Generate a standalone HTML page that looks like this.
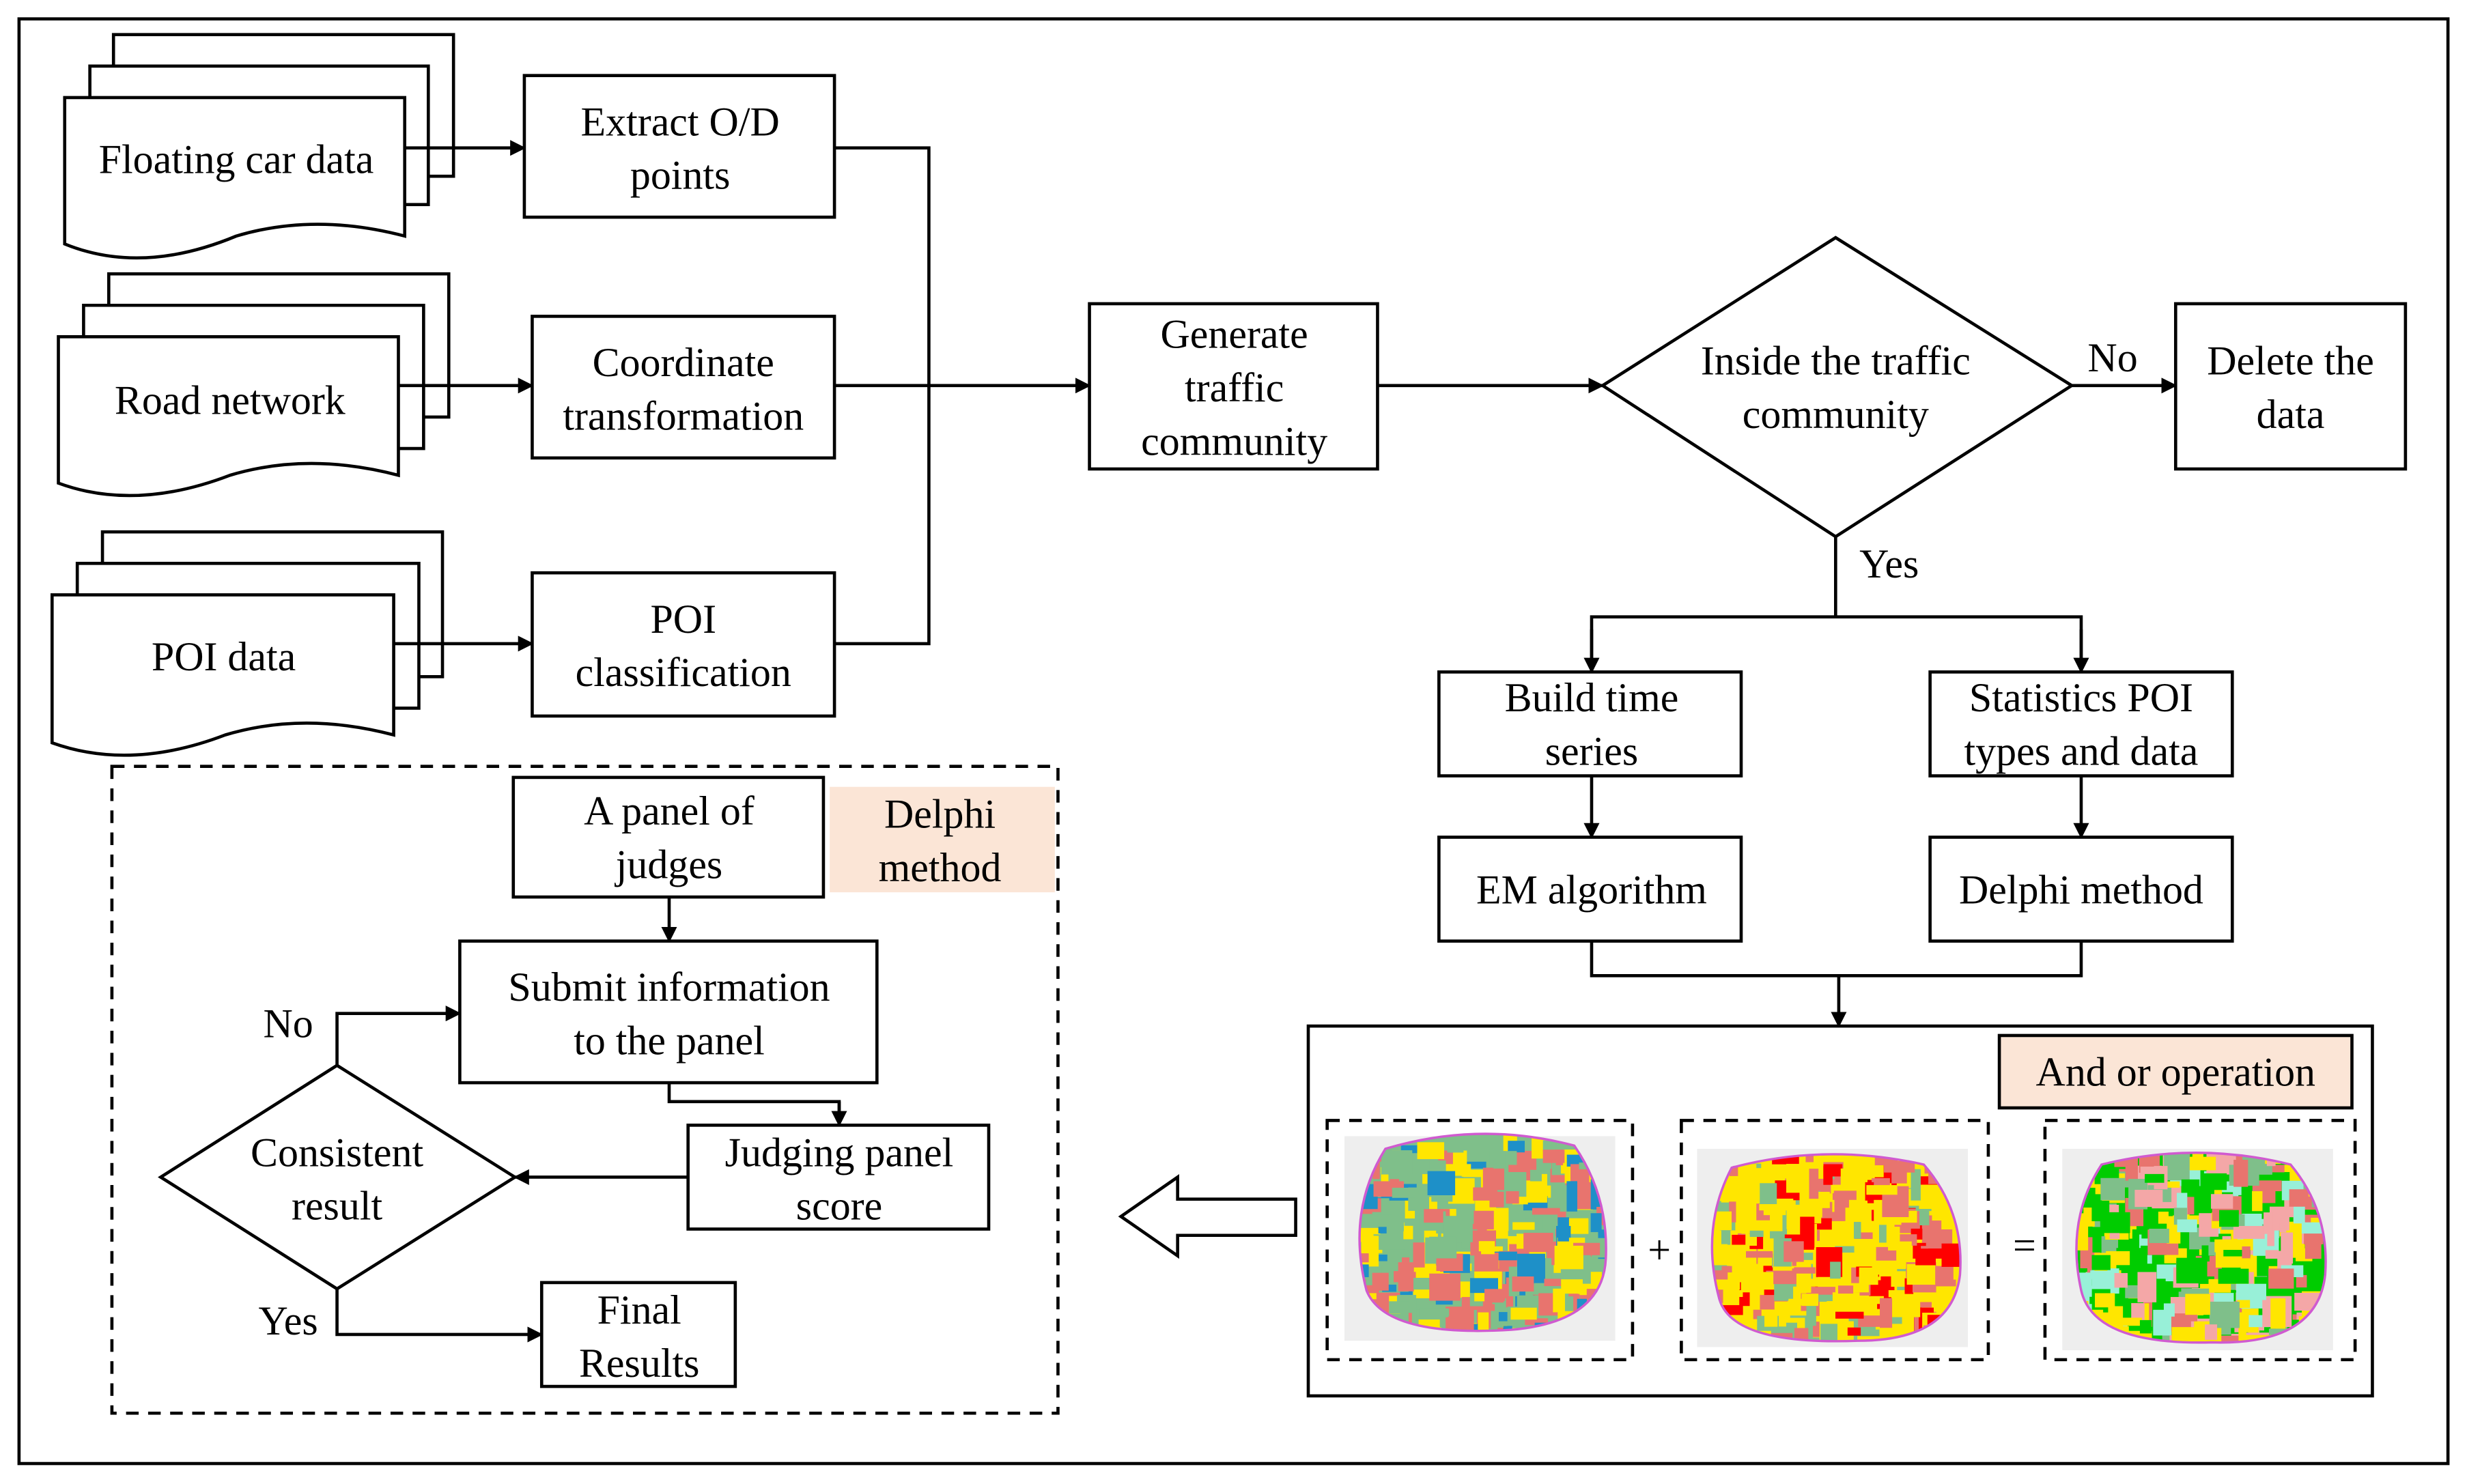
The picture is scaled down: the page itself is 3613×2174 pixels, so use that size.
<!DOCTYPE html>
<html><head><meta charset="utf-8"><style>
html,body{margin:0;padding:0;background:#fff;}
svg{display:block;}
text{font-family:"Liberation Serif",serif;font-size:26px;fill:#000;text-anchor:middle;}
</style></head><body>
<svg id="s" width="3613" height="2174" viewBox="0 0 1567 943" xmlns="http://www.w3.org/2000/svg">
<defs>
<marker id="a" markerWidth="10" markerHeight="10" refX="9" refY="5" orient="auto" markerUnits="userSpaceOnUse"><path d="M0,0 L10,5 L0,10 z" fill="#000"/></marker>
<clipPath id="c1"><path id="p1" d="M880,730 Q940,712 1000,728 Q1022,760 1020,800 Q1018,840 960,845 Q880,850 868,820 Q855,770 880,730z"/></clipPath>
<clipPath id="c2"><path id="p2" d="M1100,742 Q1160,726 1222,740 Q1248,770 1245,810 Q1240,852 1180,852 Q1100,855 1092,825 Q1080,780 1100,742z"/></clipPath>
<clipPath id="c3"><path id="p3" d="M1335,740 Q1395,725 1455,740 Q1480,770 1477,810 Q1472,855 1405,853 Q1330,855 1322,820 Q1312,775 1335,740z"/></clipPath>
</defs>
<g fill="none" stroke="#000" stroke-width="2">
<rect x="12" y="12" width="1543" height="918"/>
<g fill="#fff">
<path d="M72,22 H288 V112 H72z"/>
<path d="M57,42 H272 V130 H57z"/>
<path d="M41,62 H257 V150 Q200,135 150,150 Q90,175 41,155z"/>
<path d="M69,174 H285 V265 H69z"/>
<path d="M53,194 H269 V285 H53z"/>
<path d="M37,214 H253 V302 Q196,287 146,302 Q86,325 37,307z"/>
<path d="M65,338 H281 V430 H65z"/>
<path d="M49,358 H266 V450 H49z"/>
<path d="M33,378 H250 V467 Q193,452 143,467 Q83,490 33,472z"/>
</g>
<line x1="257" y1="94" x2="333" y2="94" marker-end="url(#a)"/>
<line x1="253" y1="245" x2="338" y2="245" marker-end="url(#a)"/>
<line x1="250" y1="409" x2="338" y2="409" marker-end="url(#a)"/>
<rect x="333" y="48" width="197" height="90"/>
<rect x="338" y="201" width="192" height="90"/>
<rect x="338" y="364" width="192" height="91"/>
<polyline points="530,94 590,94 590,409 530,409"/>
<line x1="530" y1="245" x2="692" y2="245" marker-end="url(#a)"/>
<rect x="692" y="193" width="183" height="105"/>
<line x1="875" y1="245" x2="1018" y2="245" marker-end="url(#a)"/>
<path d="M1166,151 L1316,245 L1166,341 L1018,245z"/>
<line x1="1316" y1="245" x2="1382" y2="245" marker-end="url(#a)"/>
<rect x="1382" y="193" width="146" height="105"/>
<polyline points="1166,341 1166,392"/>
<polyline points="1011,427 1011,392 1322,392 1322,427"/>
<line x1="1011" y1="400" x2="1011" y2="427" marker-end="url(#a)"/>
<line x1="1322" y1="400" x2="1322" y2="427" marker-end="url(#a)"/>
<rect x="914" y="427" width="192" height="66"/>
<rect x="1226" y="427" width="192" height="66"/>
<line x1="1011" y1="493" x2="1011" y2="532" marker-end="url(#a)"/>
<line x1="1322" y1="493" x2="1322" y2="532" marker-end="url(#a)"/>
<rect x="914" y="532" width="192" height="66"/>
<rect x="1226" y="532" width="192" height="66"/>
<polyline points="1011,598 1011,620 1322,620 1322,598"/>
<line x1="1168" y1="620" x2="1168" y2="652" marker-end="url(#a)"/>
<rect x="831" y="652" width="676" height="235"/>
<rect x="1270" y="658" width="224" height="46" fill="#fbe5d6"/>
<g stroke-dasharray="8,6">
<rect x="843" y="712" width="194" height="152"/>
<rect x="1068" y="712" width="195" height="152"/>
<rect x="1299" y="712" width="197" height="152"/>
<rect x="71" y="487" width="601" height="411"/>
</g>
<path d="M823,762 H748 V748 L712,773 L748,798 V785 H823z"/>
<rect x="326" y="494" width="197" height="76"/>
<rect x="527" y="500" width="143" height="67" fill="#fbe5d6" stroke="none"/>
<line x1="425" y1="570" x2="425" y2="598" marker-end="url(#a)"/>
<rect x="292" y="598" width="265" height="90"/>
<polyline points="425,688 425,700 533,700 533,715" />
<line x1="533" y1="700" x2="533" y2="715" marker-end="url(#a)"/>
<rect x="437" y="715" width="191" height="66"/>
<line x1="437" y1="748" x2="327" y2="748" marker-end="url(#a)"/>
<path d="M214,677 L327,748 L214,819 L102,748z"/>
<polyline points="214,677 214,644 292,644" marker-end="url(#a)"/>
<polyline points="214,819 214,848 344,848" marker-end="url(#a)"/>
<rect x="344" y="815" width="123" height="66"/>
</g>
<g id="maps"></g>
<text x="150" y="110">Floating car data</text>
<text x="146" y="263">Road network</text>
<text x="142" y="426">POI data</text>
<text x="432" y="86">Extract O/D</text><text x="432" y="120">points</text>
<text x="434" y="239">Coordinate</text><text x="434" y="273">transformation</text>
<text x="434" y="402">POI</text><text x="434" y="436">classification</text>
<text x="784" y="221">Generate</text><text x="784" y="255">traffic</text><text x="784" y="289">community</text>
<text x="1166" y="238">Inside the traffic</text><text x="1166" y="272">community</text>
<text x="1342" y="236">No</text>
<text x="1455" y="238">Delete the</text><text x="1455" y="272">data</text>
<text x="1200" y="367">Yes</text>
<text x="1011" y="452">Build time</text><text x="1011" y="486">series</text>
<text x="1322" y="452">Statistics POI</text><text x="1322" y="486">types and data</text>
<text x="1011" y="574">EM algorithm</text>
<text x="1322" y="574">Delphi method</text>
<text x="1382" y="690">And or operation</text>
<text x="1054" y="803">+</text><text x="1286" y="800">=</text>
<text x="425" y="524">A panel of</text><text x="425" y="558">judges</text>
<text x="597" y="526">Delphi</text><text x="597" y="560">method</text>
<text x="425" y="636">Submit information</text><text x="425" y="670">to the panel</text>
<text x="533" y="741">Judging panel</text><text x="533" y="775">score</text>
<text x="214" y="741">Consistent</text><text x="214" y="775">result</text>
<text x="183" y="659">No</text>
<text x="183" y="848">Yes</text>
<text x="406" y="841">Final</text><text x="406" y="875">Results</text>
</svg>
<script>
(function(){
var ns="http://www.w3.org/2000/svg",g=document.getElementById("maps");
var seed=7;function r(){seed=(seed*16807)%2147483647;return seed/2147483647;}
var maps=[[862,720,160,130,"c1","p1",["#e8746e","#7fbf8a","#ffe600","#ffe600","#e8746e","#7fbf8a","#1e90c8"],"#7fbf8a"],
[1086,728,160,126,"c2","p2",["#ff0000","#7fbf8a","#ffe600","#ffe600","#ffe600","#e8746e"],"#ffe600"],
[1318,728,160,128,"c3","p3",["#ffe600","#e8746e","#00cc00","#f4a7a7","#7fbf8a","#ffe600","#98f0d8"],"#00cc00"]];
maps.forEach(function(m){
 var bg=document.createElementNS(ns,"rect");bg.setAttribute("x",m[0]-8);bg.setAttribute("y",m[1]+2);bg.setAttribute("width",m[2]+12);bg.setAttribute("height",m[3]);bg.setAttribute("fill","#eeeeee");g.appendChild(bg);
 var gg=document.createElementNS(ns,"g");gg.setAttribute("clip-path","url(#"+m[4]+")");g.appendChild(gg);
 var base=document.createElementNS(ns,"rect");base.setAttribute("x",m[0]-10);base.setAttribute("y",m[1]-5);base.setAttribute("width",m[2]+20);base.setAttribute("height",m[3]+20);base.setAttribute("fill",m[7]);gg.appendChild(base);
 for(var i=0;i<340;i++){var e=document.createElementNS(ns,"rect");
  e.setAttribute("x",m[0]-5+r()*m[2]);e.setAttribute("y",m[1]+r()*(m[3]+10));
  e.setAttribute("width",4+r()*16);e.setAttribute("height",4+r()*16);
  e.setAttribute("fill",m[6][Math.floor(r()*m[6].length)]);gg.appendChild(e);}
 var o=document.createElementNS(ns,"use");o.setAttribute("href","#"+m[5]);o.setAttribute("fill","none");o.setAttribute("stroke","#d05ad0");o.setAttribute("stroke-width","1.5");g.appendChild(o);
});
})();
</script>
</body></html>
